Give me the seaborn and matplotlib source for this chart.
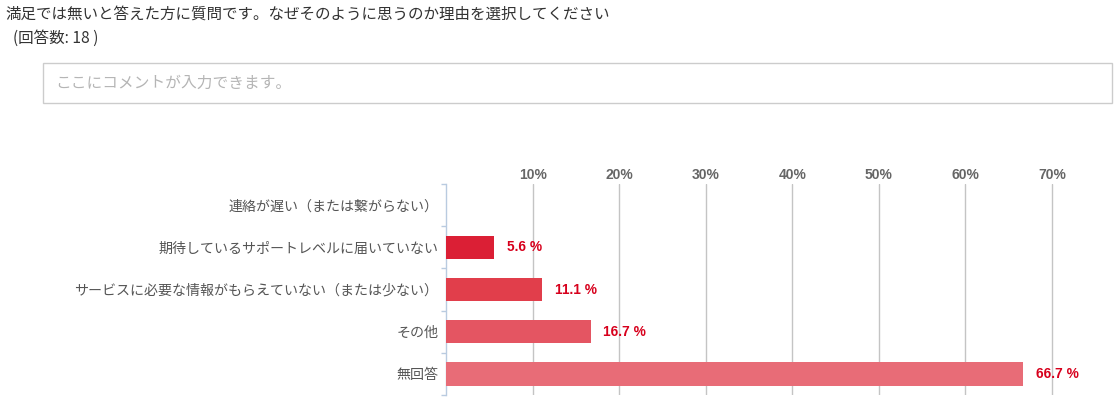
import matplotlib
matplotlib.use("Agg")
import matplotlib.pyplot as plt
import seaborn as sns
import pandas as pd
from matplotlib.patches import Rectangle

categories = [
    "連絡が遅い（または繋がらない）",
    "期待しているサポートレベルに届いていない",
    "サービスに必要な情報がもらえていない（または少ない）",
    "その他",
    "無回答",
]
values = [0.0, 5.6, 11.1, 16.7, 66.7]
value_labels = ["", "5.6 %", "11.1 %", "16.7 %", "66.7 %"]
x_ticks = [10, 20, 30, 40, 50, 60, 70]
x_ticklabels = ["10%", "20%", "30%", "40%", "50%", "60%", "70%"]
bar_colors = ["#DB1F35", "#DB1F35", "#E13E4B", "#E45562", "#E86C77"]

title = "満足では無いと答えた方に質問です。なぜそのように思うのか理由を選択してください"
count_text = "(回答数: 18 )"
placeholder = "ここにコメントが入力できます。"

sns.set_theme(style="white")
plt.rcParams["font.family"] = ["Noto Sans CJK JP", "DejaVu Sans"]

W, H = 1118, 399
fig = plt.figure(figsize=(W / 100, H / 100), dpi=100)

df = pd.DataFrame({"cat": categories, "val": values})

ax_left, ax_right, ax_top, ax_bot = 446, 1102, 184, 395
ax = fig.add_axes([ax_left / W, (H - ax_bot) / H, (ax_right - ax_left) / W, (ax_bot - ax_top) / H])

sns.barplot(data=df, x="val", y="cat", hue="cat", palette=bar_colors, legend=False,
            width=0.55, ax=ax, zorder=3, saturation=1, linewidth=0, edgecolor="none")

ax.set_xlim(0, 70 * (ax_right - ax_left) / (1052 - 446))
ax.set_ylim(4.5, -0.5)
ax.set_xlabel("")
ax.set_ylabel("")

# grid
ax.set_xticks(x_ticks)
ax.set_xticklabels(x_ticklabels)
ax.xaxis.tick_top()
ax.tick_params(axis="x", which="both", length=0, pad=1.5, labelsize=10, labelcolor="#666666")
for lab in ax.get_xticklabels():
    lab.set_fontfamily(["Liberation Sans", "DejaVu Sans"])
    lab.set_fontweight("bold")
ax.grid(axis="x", color="#c4c4c4", linewidth=1, zorder=0)
ax.set_axisbelow(True)

# y axis
ax.set_yticks(range(len(categories)))
ax.set_yticklabels(categories)
ax.tick_params(axis="y", which="major", length=0, pad=5.5, labelsize=10.1, labelcolor="#555555")
ax.set_yticks([i - 0.5 for i in range(len(categories) + 1)], minor=True)
ax.tick_params(axis="y", which="minor", length=3.5, width=1, color="#b9cbe0",
               direction="out", left=True, right=False)

for s in ["top", "right", "bottom"]:
    ax.spines[s].set_visible(False)
ax.spines["left"].set_color("#b9cbe0")
ax.spines["left"].set_linewidth(1)

# value labels
bars_sorted = sorted(ax.patches, key=lambda p: p.get_y())
for p, lab in zip(bars_sorted, value_labels):
    if lab:
        ax.annotate(lab, xy=(p.get_width(), p.get_y() + p.get_height() / 2),
                    xytext=(9, 0), textcoords="offset points", va="center", ha="left",
                    color="#D7001C", fontsize=9.9, fontweight="bold",
                    fontfamily=["Liberation Sans", "DejaVu Sans"], zorder=5)

# header texts
fig.text(5 / W, 1 - 14 / H, title, fontsize=11.2, color="#333333", va="center", ha="left")
fig.text(13 / W, 1 - 38 / H, count_text, fontsize=11.2, color="#333333", va="center", ha="left")

# comment box
bx0, bx1, by0, by1 = 43, 1112, 63, 103
fig.patches.append(Rectangle((bx0 / W, 1 - by1 / H), (bx1 - bx0) / W, (by1 - by0) / H,
                             transform=fig.transFigure, facecolor="white",
                             edgecolor="#cccccc", linewidth=1))
fig.text(55 / W, 1 - 83 / H, placeholder, fontsize=11.3, color="#b5b5b5", va="center", ha="left")

fig.savefig("out.png", dpi=100)
